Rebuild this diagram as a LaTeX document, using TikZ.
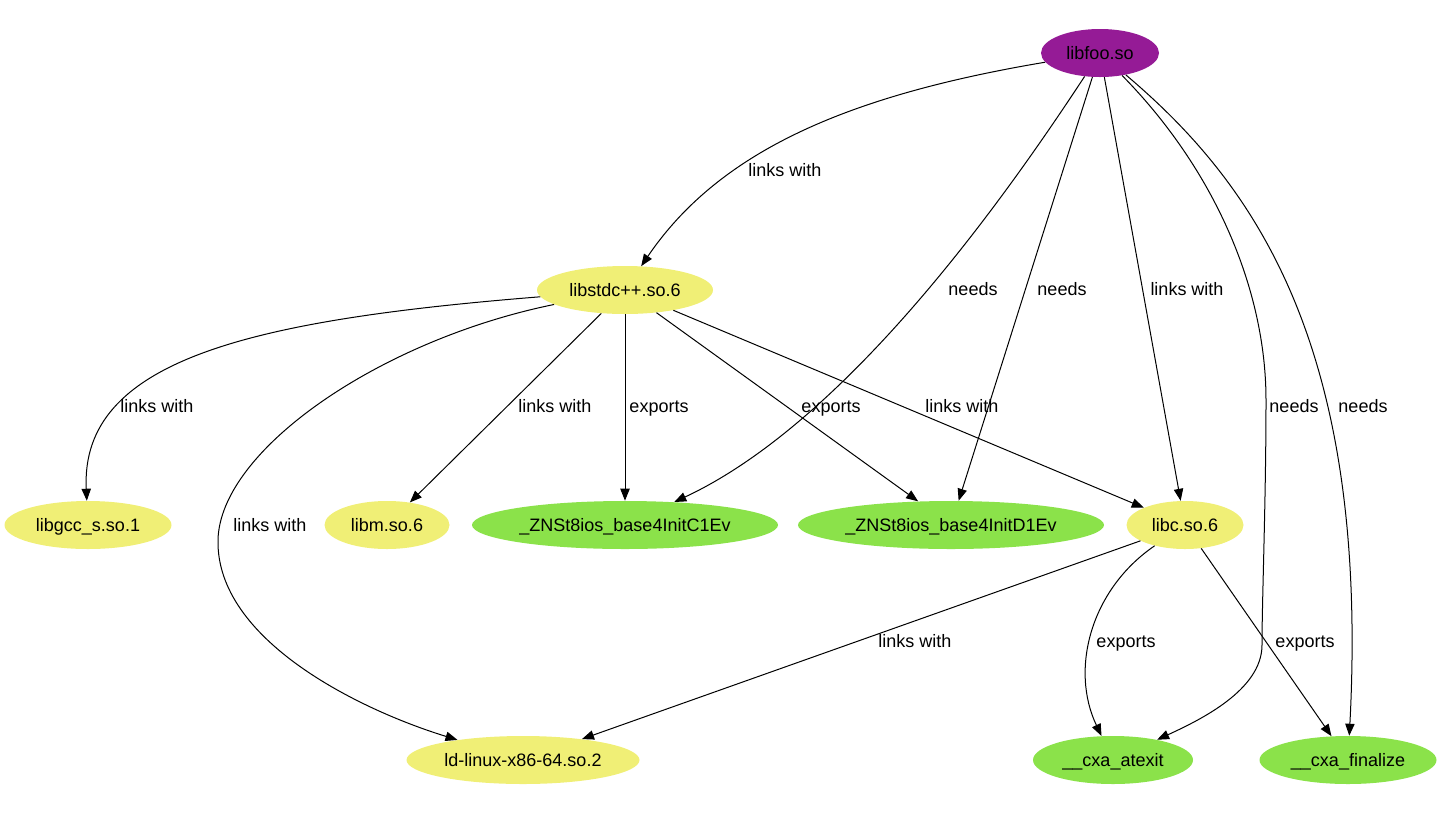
\documentclass[tikz,border=0pt]{standalone}
\usepackage{fontspec}
\setmainfont{Liberation Sans}
\usetikzlibrary{positioning}
\usetikzlibrary{arrows.meta}
\usetikzlibrary{shapes.geometric}
\definecolor{libpurple}{HTML}{951B96}
\definecolor{libyellow}{HTML}{F0EF76}
\definecolor{symgreen}{HTML}{8BE24A}
\tikzset {
  % vertices: the library we start from, the libraries it pulls in, the symbols
  rootlib/.style = {ellipse, fill=libpurple, minimum height=36pt, inner sep=0pt, text height=9.5pt, text depth=0pt, font=\fontsize{13.5}{16}\selectfont},
  lib/.style = {ellipse, fill=libyellow, minimum height=36pt, inner sep=0pt, text height=9.5pt, text depth=0pt, font=\fontsize{13.5}{16}\selectfont},
  sym/.style = {ellipse, fill=symgreen, minimum height=36pt, inner sep=0pt, text height=9.5pt, text depth=0pt, font=\fontsize{13.5}{16}\selectfont},
  % edge labels
  lbl/.style = {inner sep=0pt, text height=9.5pt, text depth=0pt, font=\fontsize{13.5}{16}\selectfont},
  % dependency edges
  dep/.style = {draw, line width=0.75pt, -{Triangle[length=9pt, width=7pt]}},
}
\begin{document}
\begin{tikzpicture}[x=0.75pt, y=-0.75pt]
      \useasboundingbox (0,0) rectangle (1443,815);

      \node[rootlib, minimum width=88.5pt] (foo) at (1100,53) {libfoo.so};

      \node[lib, minimum width=132pt] (stdcxx) at (625,290) {libstdc++.so.6};

      \node[lib, minimum width=125.25pt] (gcc) at (88,525) {libgcc\_s.so.1};
      \node[lib, minimum width=93.75pt] (libm) at (387,525) {libm.so.6};
      \node[sym, minimum width=229.5pt] (initc) at (625,525) {\_ZNSt8ios\_base4InitC1Ev};
      \node[sym, minimum width=229.5pt] (initd) at (951,525) {\_ZNSt8ios\_base4InitD1Ev};
      \node[lib, minimum width=87.75pt] (libc) at (1185,525) {libc.so.6};

      \node[lib, minimum width=174.75pt] (ld) at (523,760) {ld-linux-x86-64.so.2};
      \node[sym, minimum width=120pt] (atexit) at (1113,760) {\_\_cxa\_atexit};
      \node[sym, minimum width=132.75pt] (finalize) at (1348,760) {\_\_cxa\_finalize};

      % libfoo.so
      \draw[dep] (foo) .. controls (850,95) and (720,150) .. (stdcxx);
      \draw[dep] (foo) .. controls (1010,190) and (850,420) .. (initc);
      \draw[dep] (foo) -- (initd);
      \draw[dep] (foo) -- (libc);
      \draw[dep] (foo) .. controls (1215,170) and (1266,290) .. (1266,400)
                       .. controls (1266,500) and (1262,600) .. (1262,645)
                       .. controls (1262,690) and (1200,720) .. (atexit);
      \draw[dep] (foo) .. controls (1250,180) and (1370,340) .. (finalize);

      % libstdc++.so.6
      \draw[dep] (stdcxx) .. controls (250,320) and (80,360) .. (gcc);
      \draw[dep] (stdcxx) .. controls (380,340) and (220,450) .. (218,540)
                          .. controls (216,640) and (360,710) .. (ld);
      \draw[dep] (stdcxx) -- (libm);
      \draw[dep] (stdcxx) -- (initc);
      \draw[dep] (stdcxx) -- (initd);
      \draw[dep] (stdcxx) -- (libc);

      % libc.so.6
      \draw[dep] (libc) -- (ld);
      \draw[dep] (libc) .. controls (1090,590) and (1070,670) .. (atexit);
      \draw[dep] (libc) -- (finalize);

      \node[lbl] (l1) at (785,170) {links with};
      \node[lbl] (l2) at (973,289) {needs};
      \node[lbl] (l3) at (1062,289) {needs};
      \node[lbl] (l4) at (1187,289) {links with};
      \node[lbl] (l5) at (157,406) {links with};
      \node[lbl] (l6) at (555,406) {links with};
      \node[lbl] (l7) at (659,406) {exports};
      \node[lbl] (l8) at (831,406) {exports};
      \node[lbl] (l9) at (962,406) {links with};
      \node[lbl] (l10) at (1294,406) {needs};
      \node[lbl] (l11) at (1363,406) {needs};
      \node[lbl] (l12) at (270,525) {links with};
      \node[lbl] (l13) at (915,641) {links with};
      \node[lbl] (l14) at (1126,641) {exports};
      \node[lbl] (l15) at (1305,641) {exports};
\end{tikzpicture}
\end{document}
